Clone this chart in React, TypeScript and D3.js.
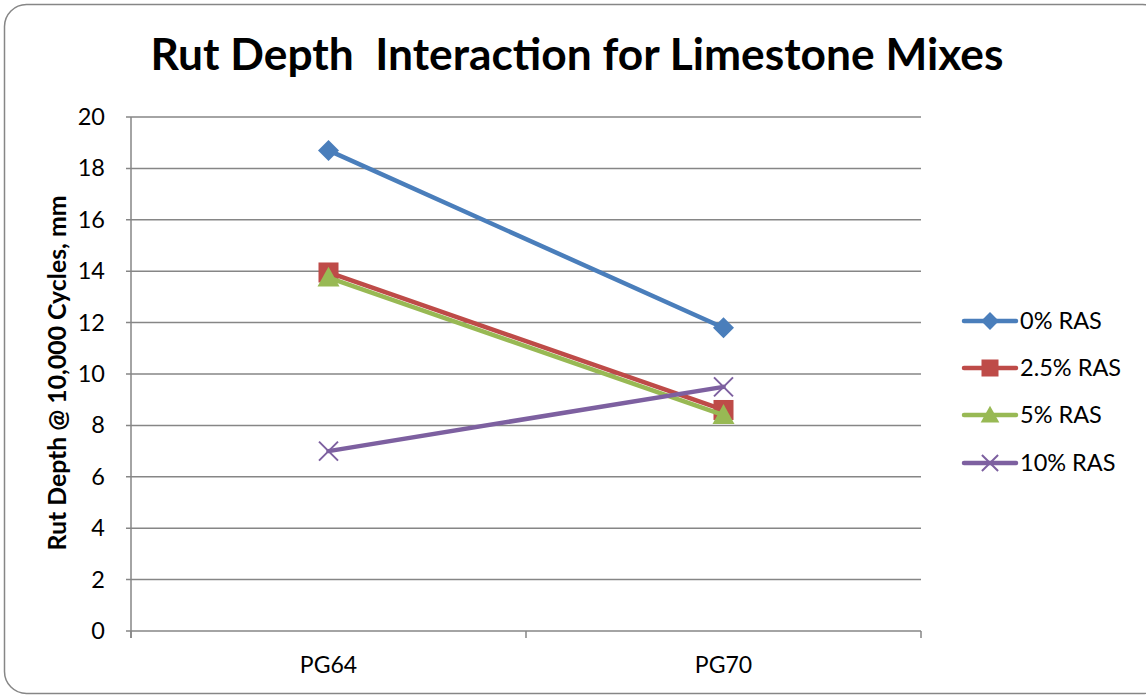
import React from "react";
import * as d3 from "d3";

const categories = ["PG64", "PG70"];
const seriesNames = ["0% RAS", "2.5% RAS", "5% RAS", "10% RAS"];
const values0 = [18.7, 11.8];
const values25 = [13.95, 8.6];
const values5 = [13.75, 8.4];
const values10 = [7.0, 9.5];
const yTicks = [0, 2, 4, 6, 8, 10, 12, 14, 16, 18, 20];
const colors = ["#4A7EBB", "#BE4B48", "#98B954", "#7D60A0"];
const markers = ["diamond", "square", "triangle", "x"];

const W = 1146;
const H = 698;
const plot = { left: 131, right: 921, top: 117, bottom: 631 };
const font = "Lato, 'Open Sans', sans-serif";

function Marker({ kind, x, y, color, s = 1 }: { kind: string; x: number; y: number; color: string; s?: number }) {
  if (kind === "diamond") {
    const r = 10.5 * s;
    return <path d={`M${x},${y - r}L${x + r},${y}L${x},${y + r}L${x - r},${y}Z`} fill={color} />;
  }
  if (kind === "square") {
    const r = 10 * s;
    return <rect x={x - r} y={y - r} width={2 * r} height={2 * r} fill={color} />;
  }
  if (kind === "triangle") {
    const r = 11 * s;
    return <path d={`M${x},${y - r}L${x + r},${y + r * 0.8}L${x - r},${y + r * 0.8}Z`} fill={color} />;
  }
  const r = 9.5 * s;
  return (
    <path
      d={`M${x - r},${y - r}L${x + r},${y + r}M${x - r},${y + r}L${x + r},${y - r}`}
      stroke={color}
      strokeWidth={2}
      fill="none"
    />
  );
}

export default function App() {
  const x = d3.scaleBand<string>().domain(categories).range([plot.left, plot.right]);
  const y = d3.scaleLinear().domain([0, 20]).range([plot.bottom, plot.top]);
  const series = [values0, values25, values5, values10];
  const line = d3
    .line<number>()
    .x((_, i) => (x(categories[i]) as number) + x.bandwidth() / 2)
    .y((d) => y(d));
  const legendY = [321, 368, 415, 463];
  const xTickPos = [plot.left, ...categories.map((c) => (x(c) as number) + x.bandwidth())];

  return (
    <svg
      width={W}
      height={H}
      style={{ position: "absolute", left: 0, top: 0, background: "#fff" }}
      fontFamily={font}
    >
      <rect x={4.5} y={4.5} width={1160} height={689} rx={22} ry={22} fill="#fff" stroke="#868686" strokeWidth={1.5} />
      <text
        x={577}
        y={70}
        textAnchor="middle"
        fontSize={44}
        fontWeight={700}
        fill="#000"
        style={{ whiteSpace: "pre" }}
        textLength={853}
        lengthAdjust="spacingAndGlyphs"
      >
        {"Rut Depth  Interaction for Limestone Mixes"}
      </text>

      {yTicks.map((t) => (
        <g key={t}>
          <line x1={plot.left - 5} x2={plot.right} y1={y(t)} y2={y(t)} stroke="#868686" strokeWidth={1.5} />
          <text x={105} y={y(t) + 8} textAnchor="end" fontSize={23.5} fill="#000">
            {t}
          </text>
        </g>
      ))}
      <line x1={plot.left} x2={plot.left} y1={plot.top} y2={plot.bottom + 7} stroke="#868686" strokeWidth={1.5} />
      {xTickPos.map((p, i) => (
        <line key={i} x1={p} x2={p} y1={plot.bottom} y2={plot.bottom + 7} stroke="#868686" strokeWidth={1.5} />
      ))}
      {categories.map((c) => (
        <text key={c} x={(x(c) as number) + x.bandwidth() / 2} y={673} textAnchor="middle" fontSize={23} fill="#000">
          {c}
        </text>
      ))}
      <text
        transform={`translate(66,${(plot.top + plot.bottom) / 2 - 1}) rotate(-90)`}
        textAnchor="middle"
        fontSize={24}
        fontWeight={700}
        fill="#000"
        textLength={355}
        lengthAdjust="spacingAndGlyphs"
      >
        Rut Depth @ 10,000 Cycles, mm
      </text>

      {series.map((vals, si) => (
        <g key={si}>
          <path d={line(vals) || ""} fill="none" stroke={colors[si]} strokeWidth={4.5} strokeLinecap="round" />
          {vals.map((v, i) => (
            <Marker
              key={i}
              kind={markers[si]}
              x={(x(categories[i]) as number) + x.bandwidth() / 2}
              y={y(v)}
              color={colors[si]}
            />
          ))}
        </g>
      ))}

      {seriesNames.map((n, si) => (
        <g key={n}>
          <line x1={964} x2={1016} y1={legendY[si]} y2={legendY[si]} stroke={colors[si]} strokeWidth={4.5} strokeLinecap="round" />
          <Marker kind={markers[si]} x={990} y={legendY[si]} color={colors[si]} s={0.85} />
          <text x={1020} y={legendY[si] + 8} fontSize={23.5} fill="#000">
            {n}
          </text>
        </g>
      ))}
    </svg>
  );
}
